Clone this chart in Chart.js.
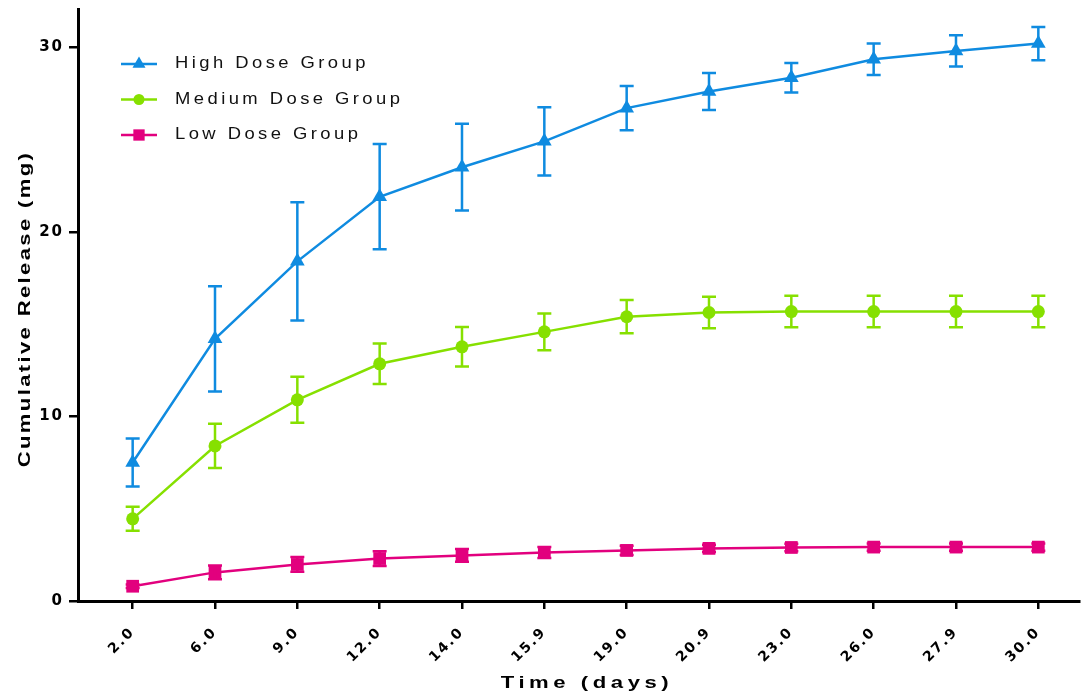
<!DOCTYPE html>
<html>
<head>
<meta charset="utf-8">
<script src="https://cdn.jsdelivr.net/npm/chart.js@4/dist/chart.umd.min.js"></script>
<style>
  html, body { margin: 0; padding: 0; background: #fff; overflow: hidden; }
  #wrap { width: 1088px; height: 695px; position: relative; }
</style>
</head>
<body>
<div id="wrap"><canvas id="chart"></canvas></div>
<script>
// Time points (days), shown as evenly spaced categories
const dayLabels = ["2.0", "6.0", "9.0", "12.0", "14.0", "15.9", "19.0", "20.9", "23.0", "26.0", "27.9", "30.0"];

// Cumulative release (mg), mean and SD per group
const highMean = [7.5, 14.2, 18.4, 21.9, 23.5, 24.9, 26.7, 27.6, 28.35, 29.35, 29.8, 30.2];
const highSD   = [1.3, 2.85, 3.2, 2.85, 2.35, 1.85, 1.2, 1.0, 0.8, 0.85, 0.85, 0.9];
const medMean  = [4.45, 8.4, 10.9, 12.85, 13.77, 14.58, 15.4, 15.63, 15.68, 15.68, 15.68, 15.68];
const medSD    = [0.65, 1.2, 1.25, 1.1, 1.07, 1.0, 0.9, 0.85, 0.85, 0.85, 0.85, 0.85];
const lowMean  = [0.8, 1.55, 1.98, 2.3, 2.47, 2.63, 2.74, 2.85, 2.9, 2.92, 2.92, 2.92];
const lowSD    = [0.1, 0.37, 0.4, 0.4, 0.35, 0.3, 0.25, 0.2, 0.2, 0.2, 0.2, 0.2];

const yTicks = [0, 10, 20, 30];

const SERIES = [
  { label: "High Dose Group",   mean: highMean, sd: highSD, color: "#0F8BE0", point: "triangle", radius: 8.5 },
  { label: "Medium Dose Group", mean: medMean,  sd: medSD,  color: "#86E000", point: "circle",   radius: 6.5 },
  { label: "Low Dose Group",    mean: lowMean,  sd: lowSD,  color: "#E2007E", point: "rect",     radius: 9 },
];

const SANS = "'Liberation Sans', Arial, sans-serif";
const TICK_FONT = "'DejaVu Sans', sans-serif";

// stretched, letter-spaced text (the original uses wide-set lettering)
function drawText(ctx, text, x, y, font, sx, ls, rot) {
  ctx.save();
  ctx.translate(x, y);
  if (rot) ctx.rotate(rot);
  ctx.scale(sx, 1);
  ctx.font = font;
  ctx.letterSpacing = ls + "px";
  ctx.fillStyle = "#000";
  ctx.textAlign = "center";
  ctx.textBaseline = "middle";
  ctx.fillText(text, 0, 0);
  ctx.restore();
}

const spacingPlugin = {
  id: "spacing",
  beforeLayout(chart) { chart.ctx.letterSpacing = "2px"; },
  beforeDraw(chart) { chart.ctx.letterSpacing = "2px"; },
};

// ----------------- error bars -----------------
const errorBars = {
  id: "errorBars",
  afterDatasetsDraw(chart) {
    const ctx = chart.ctx;
    const xs = chart.scales.x;
    const ys = chart.scales.y;
    ctx.save();
    ctx.lineWidth = 2.5;
    SERIES.forEach((s) => {
      ctx.strokeStyle = s.color;
      s.mean.forEach((m, i) => {
        const px = xs.getPixelForValue(i);
        const top = ys.getPixelForValue(m + s.sd[i]);
        const bot = ys.getPixelForValue(m - s.sd[i]);
        ctx.beginPath();
        ctx.moveTo(px, top); ctx.lineTo(px, bot);
        ctx.moveTo(px - 7, top); ctx.lineTo(px + 7, top);
        ctx.moveTo(px - 7, bot); ctx.lineTo(px + 7, bot);
        ctx.stroke();
      });
    });
    ctx.restore();
  },
};

// ----------------- legend + axis titles -----------------
const decor = {
  id: "decor",
  afterDraw(chart) {
    const ctx = chart.ctx;
    const a = chart.chartArea;

    SERIES.forEach((s, k) => {
      const y = 64 + k * 35.5;
      const x0 = a.left + 43;
      ctx.save();
      ctx.strokeStyle = s.color;
      ctx.lineWidth = 2.5;
      ctx.beginPath();
      ctx.moveTo(x0, y);
      ctx.lineTo(x0 + 36, y);
      ctx.stroke();
      ctx.fillStyle = s.color;
      Chart.helpers.drawPoint(ctx, { pointStyle: s.point, radius: s.radius - 1, rotation: 0, borderWidth: 0 }, x0 + 18, y);
      ctx.restore();

      ctx.save();
      ctx.translate(x0 + 54, y);
      ctx.scale(1.15, 1);
      ctx.font = "16px " + SANS;
      ctx.letterSpacing = "3px";
      ctx.fillStyle = "#111";
      ctx.textAlign = "left";
      ctx.textBaseline = "middle";
      ctx.fillText(s.label, 0, 0);
      ctx.restore();
    });

    drawText(ctx, "Time (days)", 587, 683, "bold 17px " + SANS, 1.3, 3.5, 0);
    drawText(ctx, "Cumulative Release (mg)", 25, 309, "bold 17px " + SANS, 1.3, 1.8, -Math.PI / 2);
  },
};

const datasets = SERIES.map((s) => ({
  label: s.label,
  data: s.mean.map((v, i) => ({ x: i, y: v })),
  borderColor: s.color,
  backgroundColor: s.color,
  borderWidth: 2.5,
  pointStyle: s.point,
  pointRadius: s.radius,
  pointBorderWidth: 0,
  pointHoverRadius: s.radius,
  tension: 0,
}));

new Chart(document.getElementById("chart"), {
  type: "line",
  data: { datasets },
  plugins: [spacingPlugin, errorBars, decor],
  options: {
    responsive: true,
    maintainAspectRatio: false,
    animation: false,
    layout: { padding: { top: 2, right: 0, bottom: 0, left: 0 } },
    plugins: {
      legend: { display: false },
      tooltip: { enabled: false },
    },
    scales: {
      x: {
        type: "linear",
        min: -0.664,
        max: 11.494,
        afterBuildTicks: (scale) => {
          scale.ticks = dayLabels.map((_, i) => ({ value: i }));
        },
        afterFit: (scale) => {
          scale.height = 94;
          scale.paddingLeft = 0;
          scale.paddingRight = 0;
        },
        grid: { drawOnChartArea: false, color: "#000", lineWidth: 2.5, tickLength: 8 },
        border: { display: true, color: "#000", width: 3 },
        ticks: {
          autoSkip: false,
          minRotation: 45,
          maxRotation: 45,
          padding: 15,
          color: "#000",
          font: { family: TICK_FONT, size: 14, weight: "bold" },
          callback: (v) => dayLabels[v],
        },
      },
      y: {
        min: 0,
        max: 32.07,
        afterBuildTicks: (scale) => {
          scale.ticks = yTicks.map((v) => ({ value: v }));
        },
        afterFit: (scale) => {
          scale.width = 78;
          scale.paddingTop = 0;
          scale.paddingBottom = 0;
        },
        grid: { drawOnChartArea: false, color: "#000", lineWidth: 2.5, tickLength: 9 },
        border: { display: true, color: "#000", width: 3 },
        ticks: {
          padding: 5,
          color: "#000",
          font: { family: TICK_FONT, size: 15, weight: "bold" },
        },
      },
    },
  },
});
</script>
</body>
</html>
